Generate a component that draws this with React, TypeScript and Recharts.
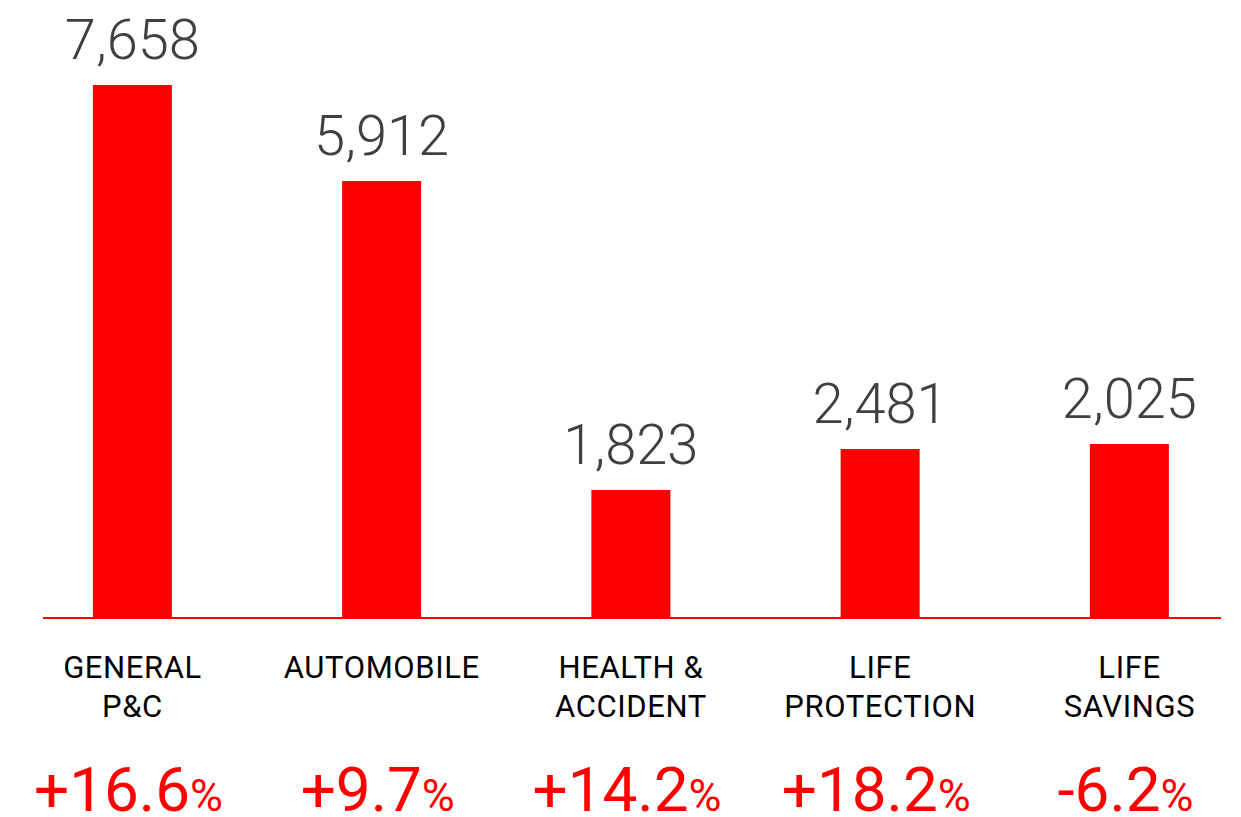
import React from "react";
import { BarChart, Bar, XAxis, YAxis, LabelList } from "recharts";

// Category labels (line by line)
const categoryLines: string[][] = [
  ["GENERAL", "P&C"],
  ["AUTOMOBILE"],
  ["HEALTH &", "ACCIDENT"],
  ["LIFE", "PROTECTION"],
  ["LIFE", "SAVINGS"],
];
// Printed values above the bars
const valueLabels = ["7,658", "5,912", "1,823", "2,481", "2,025"];
// Bar lengths as drawn in the picture (same units as the first bar)
const barHeights = [7658, 6279, 1839, 2428, 2500];
// Year-on-year change shown below each category
const changeLabels = ["+16.6", "+9.7", "+14.2", "+18.2", "-6.2"];

const data = barHeights.map((h, i) => ({
  idx: i,
  height: h,
  label: valueLabels[i],
}));

const RED = "#FF0000";
const FONT = "Roboto, 'Noto Sans', sans-serif";

const CategoryTick = (props: any) => {
  const { x, y, payload } = props;
  const i = payload.value as number;
  const lines = categoryLines[i] || [];
  return (
    <g>
      {lines.map((ln, k) => (
        <text
          key={k}
          x={x}
          y={y + 60 + k * 39}
          textAnchor="middle"
          fill="#000"
          fontSize={31}
          fontFamily={FONT}
          letterSpacing={0.6}
        >
          {ln}
        </text>
      ))}
      <text x={x - 4} y={y + 193} textAnchor="middle" fill={RED} fontFamily={FONT}>
        <tspan fontSize={62}>{changeLabels[i]}</tspan>
        <tspan fontSize={45}>%</tspan>
      </text>
    </g>
  );
};

export default function App() {
  const maxH = Math.max(...barHeights);
  return (
    <div style={{ position: "absolute", left: 0, top: 0, width: 1241, height: 817, background: "#fff" }}>
      <BarChart
        width={1241}
        height={817}
        data={data}
        margin={{ top: 85, right: 20, bottom: 0, left: 43 }}
      >
        <XAxis
          dataKey="idx"
          type="number"
          domain={[-0.35907, 4.3671]}
          allowDataOverflow
          ticks={[0, 1, 2, 3, 4]}
          height={199}
          tickSize={0}
          tickMargin={0}
          tickLine={false}
          axisLine={{ stroke: RED, strokeWidth: 2 }}
          tick={<CategoryTick />}
          interval={0}
        />
        <YAxis hide domain={[0, maxH]} allowDataOverflow />
        <Bar dataKey="height" fill={RED} barSize={79} isAnimationActive={false}>
          <LabelList
            dataKey="label"
            position="top"
            offset={26}
            fill="#404040"
            fontSize={56}
            fontFamily={FONT}
            fontWeight={300}
          />
        </Bar>
      </BarChart>
    </div>
  );
}
